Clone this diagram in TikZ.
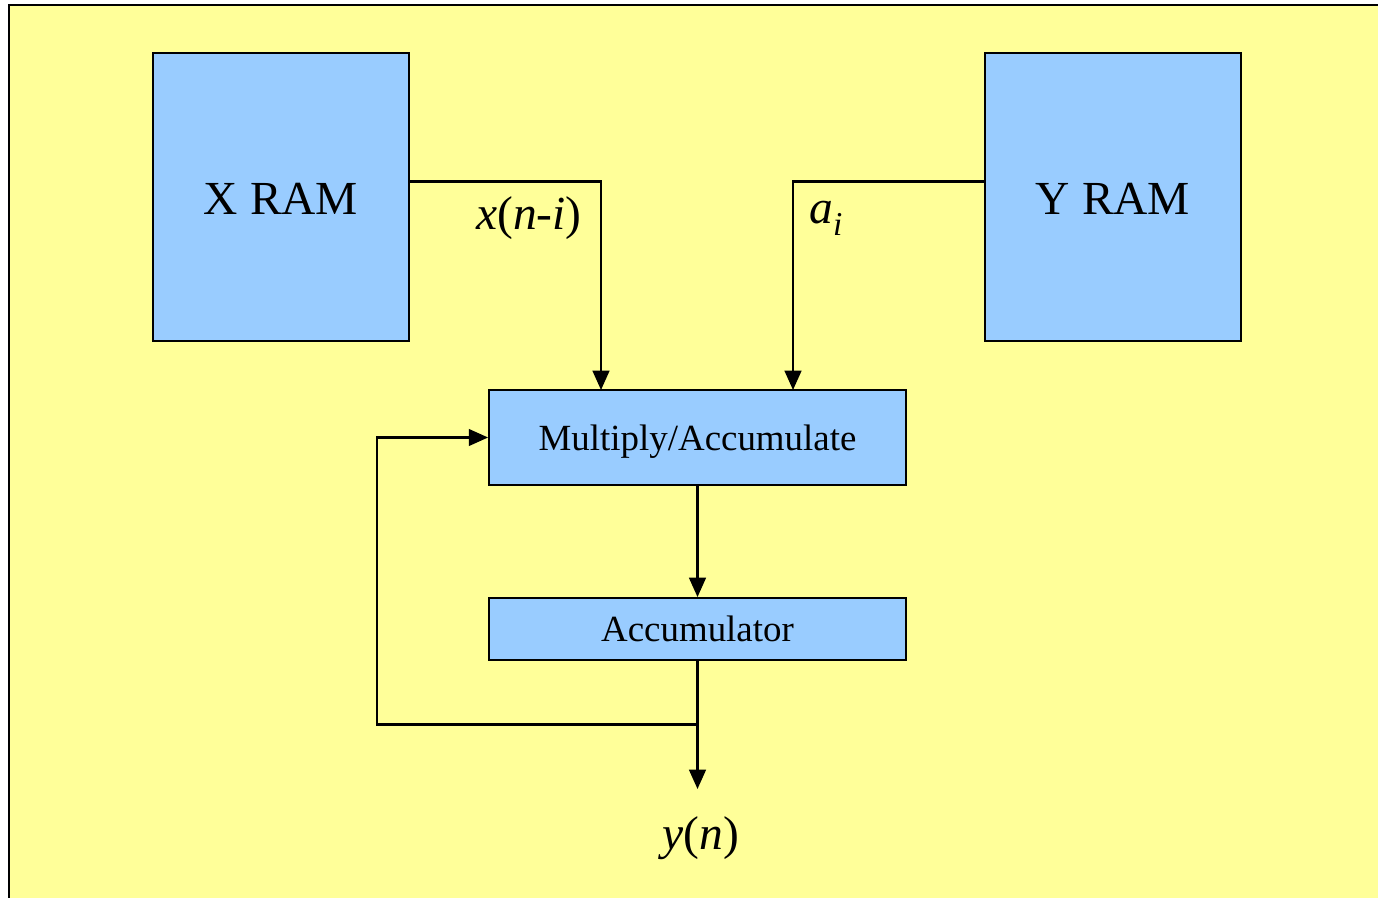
\documentclass[tikz,border=0pt]{standalone}
\usepackage{fontspec}
\setmainfont{Liberation Serif}[
  ItalicFont={Liberation Serif Italic},
  BoldFont={Liberation Serif Bold}]
\usepackage{xcolor}
\usetikzlibrary{arrows.meta}

\definecolor{slideyellow}{HTML}{FFFF99}
\definecolor{boxblue}{HTML}{99CCFF}

\tikzset{
  block/.style={draw=black, fill=boxblue, line width=1.1pt, inner sep=0pt, text depth=0pt},
  wire/.style={line width=1.3pt},
  arrowwire/.style={wire, -{Triangle[length=11pt,width=9.5pt]}}
}

\begin{document}
\begin{tikzpicture}[x=0.02cm, y=-0.02cm]

\useasboundingbox (0,0) rectangle (1378,898);
\clip (0,0) rectangle (1378,898);
\draw[fill=slideyellow, line width=1.3pt] (9,5) rectangle (1400,920);

% memories
\node[block, minimum width=5.12cm, minimum height=5.76cm] (xram) at (281,197) {};
\node[block, minimum width=5.12cm, minimum height=5.76cm] (yram) at (1113,197) {};
\node[font=\fontsize{27}{30}\selectfont] at (281,199) {X RAM};
\node[font=\fontsize{27}{30}\selectfont] at (1113,199) {Y RAM};

% datapath
\node[block, minimum width=8.34cm, minimum height=1.9cm, font=\fontsize{21}{24}\selectfont] (mac) at (697.5,437.5) {Multiply/Accumulate};
\node[block, minimum width=8.34cm, minimum height=1.24cm, font=\fontsize{21}{24}\selectfont] (acc) at (697.5,629) {Accumulator};

\coordinate (xin) at (601,390);
\coordinate (ain) at (793,390);
\coordinate (tap) at (697.5,724.5);
\coordinate (yout) at (697.5,789);

\draw[arrowwire] (xram.east |- 0,181.5) -- (601,181.5) -- (xin);
\draw[arrowwire] (yram.west |- 0,181.5) -- (793,181.5) -- (ain);
\draw[arrowwire] (mac.south) -- (acc.north);
\draw[arrowwire] (acc.south) -- (yout);
\draw[arrowwire] (tap) -- (377,724.5) -- (377,437.5) -- (mac.west);

\node[font=\fontsize{27}{30}\selectfont] (xlabel) at (529,218) {\textit{x}(\textit{n}-\textit{i})};
\node[font=\fontsize{27}{30}\selectfont] (alabel) at (826,218) {\textit{a}\raisebox{-0.55ex}{\fontsize{19}{20}\selectfont\textit{i}}};
\node[font=\fontsize{27}{30}\selectfont] (ylabel) at (701,838) {\textit{y}(\textit{n})};

\end{tikzpicture}
\end{document}
